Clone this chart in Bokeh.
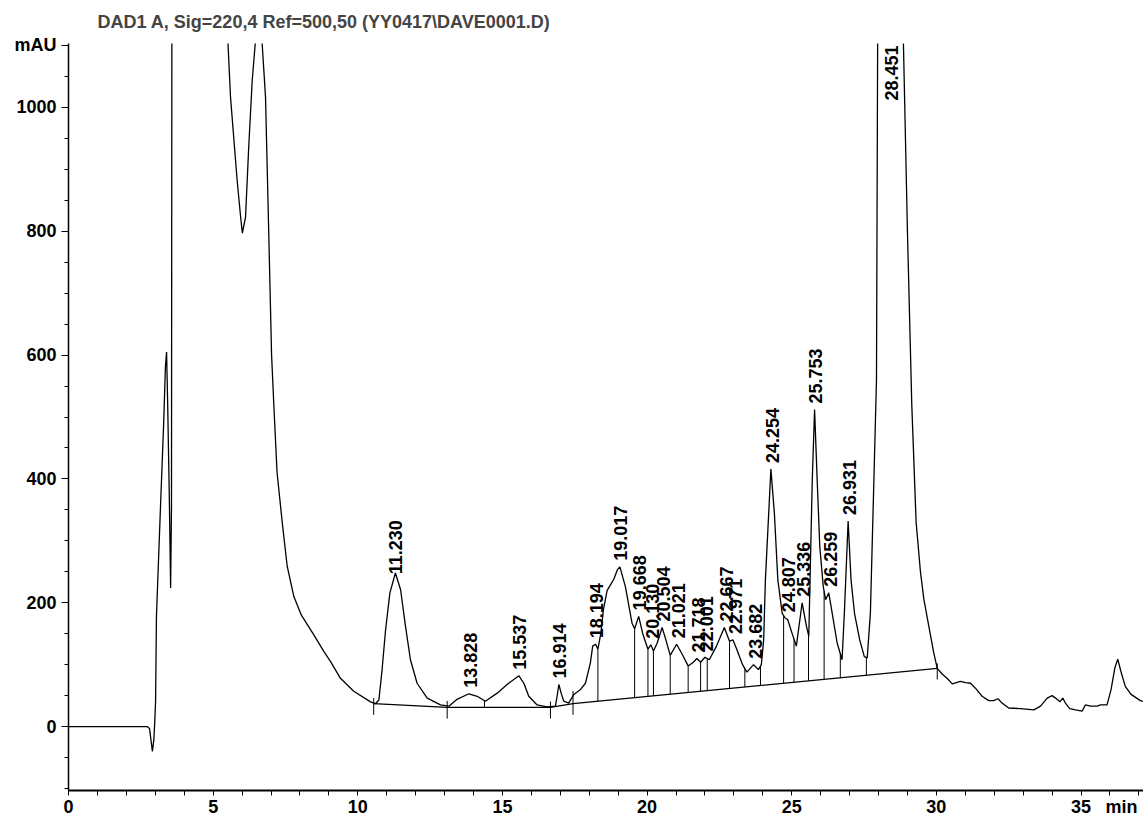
import numpy as np
from bokeh.plotting import figure
from bokeh.models import FixedTicker, Range1d
from bokeh.core.properties import value
from bokeh.embed import file_html
from bokeh.resources import INLINE

# ---- chromatogram trace (time in min, signal in mAU); 1500 = off scale ----
time_min = [0.0, 2.72, 2.80, 2.86, 2.90, 2.95, 2.98, 3.01, 3.04, 3.18, 3.29, 3.35, 3.39, 3.43, 3.49,
            3.53, 3.56, 3.58, 5.45, 5.51, 5.60, 5.83, 5.95, 6.01, 6.12, 6.23, 6.35, 6.46, 6.50, 6.66,
            6.69, 6.81, 6.92, 7.02, 7.10, 7.21, 7.39, 7.56, 7.79, 8.05, 8.48, 8.83, 9.06, 9.40, 9.86,
            10.44, 10.61, 10.73, 10.84, 10.96, 11.11, 11.30, 11.48, 11.65, 11.82, 12.05, 12.40, 12.86,
            13.15, 13.43, 13.84, 14.13, 14.41, 14.82, 15.16, 15.57, 15.74, 15.91, 16.20, 16.55, 16.83,
            16.89, 16.95, 17.03, 17.12, 17.29, 17.47, 17.70, 17.87, 18.04, 18.12, 18.22, 18.30, 18.40,
            18.49, 18.62, 18.75, 18.85, 18.97, 19.06, 19.25, 19.48, 19.57, 19.71, 19.85, 20.03, 20.13,
            20.22, 20.35, 20.52, 20.65, 20.80, 21.02, 21.20, 21.42, 21.60, 21.72, 21.85, 22.00, 22.15,
            22.40, 22.67, 22.85, 22.97, 23.10, 23.30, 23.45, 23.68, 23.85, 23.95, 24.03, 24.09, 24.28,
            24.40, 24.52, 24.67, 24.78, 24.86, 25.01, 25.16, 25.36, 25.51, 25.59, 25.71, 25.79, 25.88,
            25.97, 26.09, 26.17, 26.28, 26.40, 26.57, 26.74, 26.82, 26.95, 27.05, 27.17, 27.35, 27.51,
            27.61, 27.72, 27.84, 27.93, 27.97, 28.00, 28.80, 28.86, 29.00, 29.15, 29.30, 29.45, 29.57,
            29.74, 29.91, 30.03, 30.20, 30.37, 30.55, 30.83, 31.01, 31.18, 31.35, 31.58, 31.81, 31.98,
            32.13, 32.27, 32.50, 32.91, 33.37, 33.60, 33.83, 34.00, 34.12, 34.27, 34.37, 34.46, 34.61,
            34.81, 35.04, 35.15, 35.33, 35.56, 35.67, 35.90, 36.04, 36.17, 36.27, 36.38, 36.53, 36.73,
            37.05, 37.20]
signal_mau = [0, 0, -3, -25, -40, -21, 6, 40, 178, 355, 490, 581, 605, 517, 355,
              224, 355, 1500, 1500, 1106, 1017, 882, 823, 797, 823, 936, 1043, 1106, 1500, 1500,
              1106, 1017, 802, 600, 517, 410, 329, 259, 210, 180, 148, 121, 105, 78, 57,
              40, 37, 43, 92, 156, 216, 248, 221, 162, 108, 70, 46, 35,
              33, 44, 53, 49, 41, 54, 68, 82, 70, 49, 35, 32, 33,
              49, 68, 54, 41, 38, 52, 60, 70, 103, 130, 133, 125, 150,
              189, 220, 230, 238, 253, 258, 226, 167, 158, 178, 150, 125, 132,
              122, 135, 160, 140, 115, 133, 118, 98, 104, 110, 104, 112, 108,
              130, 160, 138, 140, 125, 100, 88, 100, 92, 100, 140, 237, 416,
              345, 237, 183, 175, 173, 151, 130, 200, 162, 146, 398, 512, 398,
              291, 226, 205, 216, 183, 135, 108, 184, 332, 237, 183, 140, 113,
              111, 184, 398, 560, 1106, 1500, 1500, 1106, 800, 520, 330, 250, 205,
              162, 119, 94, 85, 78, 69, 73, 71, 70, 62, 49, 42, 42,
              45, 38, 30, 29, 27, 33, 46, 50, 46, 40, 46, 38, 29,
              27, 25, 35, 33, 33, 35, 35, 60, 95, 109, 89, 65, 52,
              42, 40]

# ---- integration baseline ----
baseline_t = [10.55, 13.09, 16.66, 17.44, 30.03]
baseline_v = [37, 31, 31, 37, 94]

# boundary marks crossing the baseline
boundary_t = [10.55, 13.09, 16.66, 17.44, 30.03]
# drop lines from baseline to signal
drop_t = [14.38, 18.30, 19.57, 20.03, 20.22, 20.80, 21.42, 21.85, 22.08, 22.85, 23.38, 23.92,
          24.72, 25.08, 25.58, 26.12, 26.68, 27.58]

# ---- peak retention times ----
peak_rt = [11.230, 13.828, 15.537, 16.914, 18.194, 19.017, 19.668, 20.130, 20.504, 21.021,
           21.718, 22.001, 22.667, 22.971, 23.682, 24.254, 24.807, 25.336, 25.753, 26.259,
           26.931, 28.451]

x_ticks = [0, 5, 10, 15, 20, 25, 30, 35, 36.4]
x_tick_text = {36.4: "min"}
y_ticks = [0, 200, 400, 600, 800, 1000, 1100]
y_tick_text = {1100: "mAU"}

X_MAX = 37.16
Y_MIN, Y_MAX = -103.2, 1103.2

FONT = "Liberation Sans"

p = figure(width=1143, height=819, output_backend="svg", toolbar_location=None,
           x_range=Range1d(0, X_MAX), y_range=Range1d(Y_MIN, Y_MAX),
           min_border_left=68, min_border_right=0, min_border_top=43, min_border_bottom=28)
p.outline_line_color = None
p.xgrid.visible = False
p.ygrid.visible = False
p.background_fill_color = "white"
p.border_fill_color = "white"

p.title.text = "DAD1 A, Sig=220,4 Ref=500,50 (YY0417\\DAVE0001.D)"
p.title.text_font = FONT
p.title.text_font_size = "18px"
p.title.text_font_style = "bold"
p.title.text_line_height = 0.7
p.title.align = "left"
p.title.vertical_align = "top"
p.title.offset = 29
p.title.standoff = 19

t = np.array(time_min, dtype=float)
v = np.array(signal_mau, dtype=float)
p.line(t, v, line_color="black", line_width=1.3)

# baseline
p.line(baseline_t, baseline_v, line_color="black", line_width=1.3)

def base_at(x):
    return float(np.interp(x, baseline_t, baseline_v))

def sig_at(x):
    return float(np.interp(x, t, v))

# boundary ticks (cross the baseline)
bx = list(boundary_t)
by0 = [base_at(x) - 18 for x in boundary_t]
by1 = [max(sig_at(x), base_at(x)) + 8 for x in boundary_t]
p.segment(bx, by0, bx, by1, line_color="black", line_width=1.0)

# drop lines
dy0 = [base_at(x) for x in drop_t]
dy1 = [sig_at(x) for x in drop_t]
p.segment(drop_t, dy0, drop_t, dy1, line_color="black", line_width=1.0)

# peak labels
lab_x, lab_y, lab_txt = [], [], []
top_x, top_txt = [], []
for rt in peak_rt:
    m = (t >= rt - 0.06) & (t <= rt + 0.06)
    apex = v[m].max() if m.any() else sig_at(rt)
    apex = max(apex, sig_at(rt))
    if apex > Y_MAX:
        top_x.append(rt)
        top_txt.append(f"{rt:.3f}")
    else:
        lab_x.append(rt)
        lab_y.append(apex)
        lab_txt.append(f"{rt:.3f}")

p.text(x=lab_x, y=lab_y, text=lab_txt, angle=np.pi / 2, text_align="left",
       text_baseline="middle", x_offset=2, y_offset=-6, text_font=value(FONT),
       text_font_size="18px", text_font_style="bold", text_color="black")
p.text(x=top_x, y=[Y_MAX] * len(top_x), text=top_txt, angle=np.pi / 2, text_align="right",
       text_baseline="middle", y_offset=2, text_font=value(FONT), text_font_size="18px",
       text_font_style="bold", text_color="black")

# axes
for ax in (p.xaxis[0], p.yaxis[0]):
    ax.axis_line_color = "black"
    ax.major_tick_line_color = "black"
    ax.minor_tick_line_color = "black"
    ax.major_label_text_font = FONT
    ax.major_label_text_font_style = "bold"
    ax.major_label_text_font_size = "18px"
    ax.major_label_text_color = "black"
    ax.major_tick_in = 0
    ax.minor_tick_in = 0

p.xaxis.ticker = FixedTicker(ticks=x_ticks, minor_ticks=list(range(0, 38)))
p.xaxis.major_label_overrides = x_tick_text
p.xaxis.axis_line_width = 2
p.xaxis.major_tick_out = 0
p.xaxis.minor_tick_out = 5
p.xaxis.major_label_standoff = 1

p.yaxis.ticker = FixedTicker(ticks=y_ticks, minor_ticks=list(range(-100, 1101, 50)))
p.yaxis.major_label_overrides = y_tick_text
p.yaxis.axis_line_width = 1.5
p.yaxis.major_tick_out = 7
p.yaxis.minor_tick_out = 4
p.yaxis.major_label_standoff = 5

open("out.html", "w").write(file_html(p, INLINE))
